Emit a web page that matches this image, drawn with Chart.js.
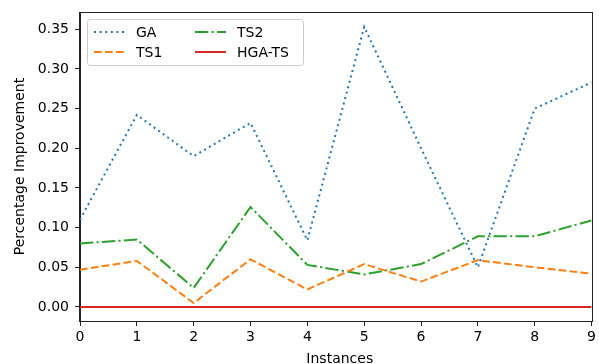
<!DOCTYPE html>
<html>
<head>
<meta charset="utf-8">
<script src="https://cdn.jsdelivr.net/npm/chart.js@4/dist/chart.umd.min.js"></script>
<style>
html,body{margin:0;padding:0;background:#fff;}
#wrap{position:relative;width:599px;height:364px;}
</style>
</head>
<body>
<div id="wrap"><canvas id="c" width="599" height="364"></canvas></div>
<script>
const instances = [0,1,2,3,4,5,6,7,8,9];
const gaValues   = [0.110,0.242,0.190,0.232,0.084,0.353,0.200,0.050,0.250,0.283];
const ts1Values  = [0.047,0.058,0.005,0.060,0.022,0.054,0.032,0.059,0.050,0.042];
const ts2Values  = [0.080,0.085,0.024,0.126,0.053,0.041,0.054,0.089,0.089,0.109];
const hgaValues  = [0,0,0,0,0,0,0,0,0,0];
const yTickValues = [0,0.05,0.10,0.15,0.20,0.25,0.30,0.35];
const seriesNames = ['GA','TS1','TS2','HGA-TS'];
const xTitle = 'Instances';
const yTitle = 'Percentage Improvement';

const FONT = '"DejaVu Sans", sans-serif';
const pts = arr => arr.map((v,i)=>({x:instances[i], y:v}));

const styles = [
  {color:'#1f77b4', dash:[2,3.6]},
  {color:'#ff7f0e', dash:[7.7,3.3]},
  {color:'#2ca02c', dash:[13.3,3.3,2.1,3.3]},
  {color:'#d62728', dash:[]}
];
const vals = [gaValues, ts1Values, ts2Values, hgaValues];

const datasets = vals.map((v,i)=>({
  label: seriesNames[i],
  data: pts(v),
  borderColor: styles[i].color,
  backgroundColor: styles[i].color,
  borderDash: styles[i].dash,
  borderWidth: 2,
  pointRadius: 0,
  tension: 0,
  fill: false
}));

const framePlugin = {
  id:'frame',
  afterDatasetsDraw(chart){
    const {ctx, chartArea:a} = chart;
    ctx.save();
    ctx.strokeStyle = '#222';
    ctx.lineWidth = 1;
    ctx.strokeRect(Math.round(a.left)-0.5, Math.round(a.top)+0.5, Math.round(a.right-a.left)+1, Math.round(a.bottom-a.top));
    ctx.restore();
  },
  afterDraw(chart){
    const {ctx, chartArea:a} = chart;
    ctx.save();
    // legend
    const lx=87, ly=19, lw=216, lh=46;
    ctx.fillStyle='rgba(255,255,255,0.8)';
    ctx.strokeStyle='#cccccc';
    ctx.lineWidth=1;
    ctx.beginPath();
    if (ctx.roundRect) ctx.roundRect(lx+0.5,ly+0.5,lw,lh,3); else ctx.rect(lx+0.5,ly+0.5,lw,lh);
    ctx.fill(); ctx.stroke();
    const pos = [[94,32],[94,52],[195,32],[195,52]];
    ctx.font = '14px '+FONT;
    ctx.textBaseline='middle';
    ctx.textAlign='left';
    chart.data.datasets.forEach((ds,i)=>{
      const [x,y]=pos[i];
      ctx.strokeStyle=ds.borderColor;
      ctx.lineWidth=2;
      ctx.setLineDash(ds.borderDash);
      ctx.beginPath(); ctx.moveTo(x,y); ctx.lineTo(x+31,y); ctx.stroke();
      ctx.setLineDash([]);
      ctx.fillStyle='#000';
      ctx.fillText(ds.label, x+42, y+1);
    });
    // axis titles
    ctx.fillStyle='#000';
    ctx.textAlign='center';
    ctx.textBaseline='middle';
    ctx.fillText(xTitle, (a.left+a.right)/2 + 4, 359);
    ctx.translate(20, (a.top+a.bottom)/2);
    ctx.rotate(-Math.PI/2);
    ctx.fillText(yTitle, 0, 0);
    ctx.restore();
  }
};

new Chart(document.getElementById('c'), {
  type:'line',
  data:{datasets},
  options:{
    responsive:false,
    animation:false,
    devicePixelRatio:1,
    layout:{padding:{left:0, right:7, top:12, bottom:0}},
    plugins:{legend:{display:false}, tooltip:{enabled:false}},
    scales:{
      x:{
        type:'linear', min:0, max:9,
        ticks:{stepSize:1, color:'#000', font:{family:FONT, size:14}, padding:3, maxRotation:0},
        grid:{drawOnChartArea:false, drawTicks:true, tickLength:5, color:'#222'},
        border:{display:true, color:'#222', width:1},
        afterFit(s){ s.height = 43; s.paddingTop = 0; s.paddingBottom = 0; }
      },
      y:{
        type:'linear', min:-0.0177, max:0.3717,
        afterBuildTicks(s){ s.ticks = yTickValues.map(v=>({value:v})); },
        ticks:{color:'#000', font:{family:FONT, size:14}, padding:6,
          callback:(v)=>Number(v).toFixed(2)},
        grid:{drawOnChartArea:false, drawTicks:true, tickLength:5, color:'#222'},
        border:{display:true, color:'#222', width:1},
        afterFit(s){ s.width = 80; s.paddingTop = 0; s.paddingBottom = 0; }
      }
    }
  },
  plugins:[framePlugin]
});
</script>
</body>
</html>
